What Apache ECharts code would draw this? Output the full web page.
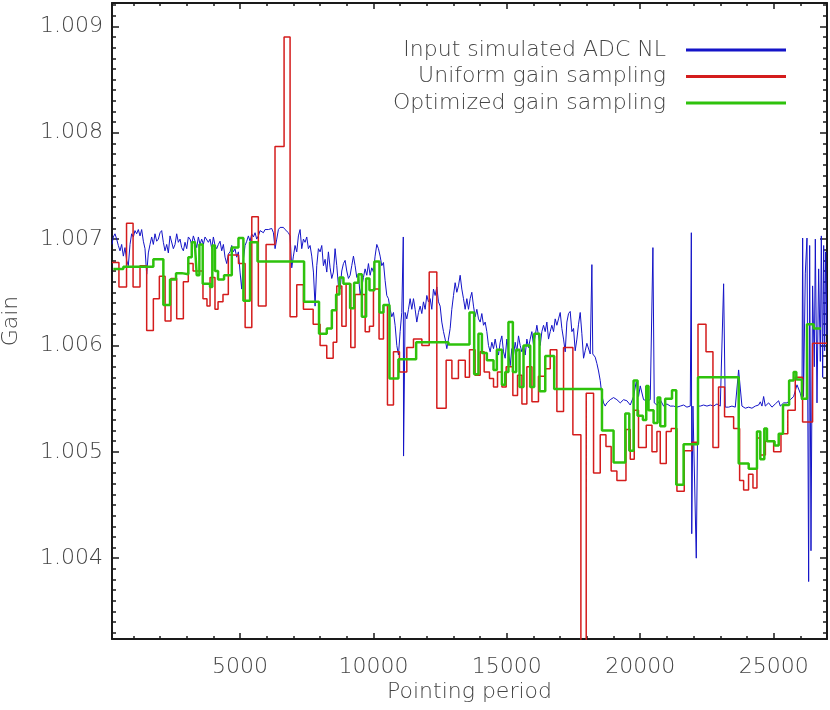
<!DOCTYPE html>
<html><head><meta charset="utf-8">
<script src="https://cdn.jsdelivr.net/npm/echarts@6/dist/echarts.min.js"></script>
<style>html,body{margin:0;padding:0;background:#fff}#c{width:830px;height:710px}</style>
</head><body><div id="c"></div>
<script>
const xMajorTicks = [5000, 10000, 15000, 20000, 25000];
const yMajorTicks = [1.004, 1.005, 1.006, 1.007, 1.008, 1.009];
const xRange = [200, 27000];
const yRange = [1.00324, 1.00922];
const seriesNames = ['Input simulated ADC NL', 'Uniform gain sampling', 'Optimized gain sampling'];
const xTitle = 'Pointing period';
const yTitle = 'Gain';

const blue = [
[200,1.00695],[250,1.00702],[312,1.00705],[375,1.00700],[437,1.00694],[500,1.00689],[562,1.00695],[625,1.00684],[687,1.00692],[750,1.00680],[812,1.00675],[875,1.00695],[937,1.00705],[1000,1.00702],[1062,1.00708],[1125,1.00705],[1187,1.00709],[1250,1.00703],[1312,1.00709],[1375,1.00698],[1437,1.00691],[1500,1.00667],[1562,1.00687],[1625,1.00695],[1687,1.00702],[1750,1.00695],[1812,1.00705],[1875,1.00698],[1937,1.00700],[2000,1.00706],[2062,1.00708],[2125,1.00697],[2187,1.00689],[2250,1.00695],[2312,1.00687],[2375,1.00703],[2437,1.00702],[2500,1.00691],[2562,1.00695],[2625,1.00705],[2687,1.00697],[2750,1.00700],[2812,1.00692],[2875,1.00689],[2937,1.00697],[3000,1.00691],[3062,1.00702],[3125,1.00700],[3187,1.00695],[3250,1.00703],[3312,1.00698],[3375,1.00692],[3437,1.00702],[3500,1.00695],[3562,1.00700],[3625,1.00695],[3687,1.00702],[3750,1.00703],[3812,1.00697],[3875,1.00700],[3937,1.00691],[4000,1.00702],[4062,1.00694],[4125,1.00691],[4187,1.00695],[4250,1.00698],[4312,1.00689],[4375,1.00695],[4437,1.00683],[4500,1.00677],[4562,1.00686],
[4625,1.00688],[4687,1.00694],[4750,1.00688],[4812,1.00691],[4875,1.00683],[4937,1.00688],[5000,1.00669],[5062,1.00653],[5125,1.00681],[5187,1.00694],[5250,1.00698],[5312,1.00703],[5375,1.00698],[5437,1.00705],[5500,1.00702],[5562,1.00706],[5625,1.00700],[5687,1.00703],[5750,1.00708],[5812,1.00709],[5875,1.00706],[5937,1.00709],[6000,1.00708],[6062,1.00709],[6125,1.00708],[6187,1.00710],[6250,1.00706],[6312,1.00691],[6375,1.00700],[6437,1.00709],[6500,1.00711],[6562,1.00710],[6625,1.00711],[6687,1.00709],[6750,1.00709],[6812,1.00706],[6875,1.00703],[6937,1.00673],[7000,1.00684],[7062,1.00694],[7125,1.00688],[7187,1.00703],[7250,1.00709],[7312,1.00691],[7375,1.00700],[7437,1.00697],[7500,1.00702],[7562,1.00691],[7625,1.00694],[7687,1.00684],[7750,1.00669],[7812,1.00637],[7875,1.00675],[7937,1.00691],[8000,1.00688],[8062,1.00694],[8125,1.00675],[8187,1.00681],[8250,1.00669],[8312,1.00688],[8375,1.00673],[8437,1.00663],[8500,1.00669],[8562,1.00691],[8625,1.00675],[8687,1.00656],
[8750,1.00653],[8812,1.00670],[8875,1.00677],[8937,1.00680],[9000,1.00670],[9062,1.00663],[9125,1.00666],[9187,1.00675],[9250,1.00684],[9312,1.00675],[9375,1.00664],[9437,1.00666],[9500,1.00648],[9562,1.00655],[9625,1.00664],[9687,1.00672],[9750,1.00666],[9812,1.00677],[9875,1.00666],[9937,1.00673],[10000,1.00669],[10062,1.00684],[10125,1.00695],[10187,1.00691],[10250,1.00684],[10312,1.00675],[10375,1.00678],[10437,1.00661],[10500,1.00647],[10562,1.00644],[10625,1.00634],[10687,1.00627],[10750,1.00631],[10812,1.00619],[10875,1.00600],[10937,1.00591],[11000,1.00613],[11062,1.00631],[11118,1.00702],[11128,1.00496],[11187,1.00631],[11250,1.00625],[11312,1.00634],[11375,1.00644],[11437,1.00634],[11500,1.00644],[11562,1.00634],[11625,1.00622],[11687,1.00631],[11750,1.00637],[11812,1.00630],[11875,1.00641],[11937,1.00634],[12000,1.00647],[12062,1.00641],[12125,1.00644],[12187,1.00634],[12250,1.00653],[12312,1.00647],[12375,1.00655],[12437,1.00641],[12500,1.00637],[12562,1.00622],[12625,1.00613],[12687,1.00606],[12750,1.00597],[12812,1.00606],[12875,1.00616],[12937,1.00634],[13000,1.00647],[13062,1.00659],[13125,1.00650],[13187,1.00656],[13250,1.00666],[13312,1.00653],[13375,1.00644],[13437,1.00634],[13500,1.00644],[13562,1.00634],[13625,1.00644],[13687,1.00650],[13750,1.00637],[13812,1.00627],[13875,1.00634],[13937,1.00625],[14000,1.00622],[14062,1.00630],[14125,1.00619],[14187,1.00622],[14250,1.00613],[14312,1.00600],[14375,1.00594],[14437,1.00603],[14500,1.00597],[14562,1.00606],[14625,1.00597],[14687,1.00591],[14750,1.00603],[14812,1.00609],[14875,1.00594],[14937,1.00588],[15000,1.00606],[15062,1.00595],[15125,1.00581],[15187,1.00597],[15250,1.00591],[15312,1.00603],[15375,1.00594],[15437,1.00609],[15500,1.00600],[15562,1.00594],[15625,1.00600],[15687,1.00591],[15750,1.00606],[15812,1.00598],[15875,1.00606],[15937,1.00613],[16000,1.00600],[16062,1.00609],[16125,1.00619],[16187,1.00609],[16250,1.00600],[16312,1.00613],[16375,1.00619],[16437,1.00613],[16500,1.00622],[16562,1.00606],[16625,1.00613],[16687,1.00619],[16750,1.00613],[16812,1.00625],[16875,1.00619],[16937,1.00625],[17000,1.00631],[17062,1.00616],[17125,1.00606],[17187,1.00594],[17250,1.00622],[17312,1.00630],[17375,1.00632],[17437,1.00613],
[17500,1.00616],[17562,1.00595],[17625,1.00606],[17687,1.00620],[17750,1.00631],[17812,1.00611],[17875,1.00588],[17937,1.00595],[18000,1.00602],[18062,1.00603],[18125,1.00592],[18187,1.00676],[18220,1.00592],[18312,1.00589],[18375,1.00583],[18437,1.00576],[18500,1.00567],[18562,1.00553],[18625,1.00546],[18687,1.00543],
[18750,1.00546],[18875,1.00549],[19000,1.00551],[19125,1.00549],[19250,1.00546],[19375,1.00549],[19500,1.00548],[19625,1.00544],[19750,1.00552],[19850,1.00566],[19937,1.00552],[20000,1.00562],[20125,1.00549],[20250,1.00548],[20375,1.00549],[20475,1.00692],[20525,1.00546],[20625,1.00544],[20750,1.00549],[20875,1.00543],[21000,1.00545],[21125,1.00543],[21250,1.00543],[21375,1.00542],[21500,1.00543],[21625,1.00544],[21750,1.00542],[21875,1.00543],[21915,1.00706],[21930,1.00423],[21975,1.00543],[22100,1.00400],[22160,1.00543],[22250,1.00543],[22375,1.00544],[22500,1.00543],[22625,1.00544],[22750,1.00543],[22875,1.00545],[23000,1.00543],[23125,1.00658],[23187,1.00542],[23312,1.00542],[23437,1.00543],[23562,1.00542],[23687,1.00577],[23812,1.00543],[23937,1.00541],[24062,1.00542],[24187,1.00541],[24312,1.00543],[24437,1.00544],[24500,1.00547],[24562,1.00543],[24625,1.00552],[24687,1.00543],[24812,1.00546],[24937,1.00542],[25062,1.00545],[25187,1.00548],[25250,1.00543],[25375,1.00546],[25500,1.00546],[25625,1.00549],[25750,1.00552],[25875,1.00563],[25937,1.00563],[26000,1.00555],[26062,1.00549],
[26087,1.00701],[26120,1.00552],[26187,1.00668],[26250,1.00701],[26312,1.00378],[26350,1.00694],[26400,1.00407],[26460,1.00656],[26525,1.00580],[26562,1.00700],[26625,1.00546],[26687,1.00672],[26750,1.00585],[26787,1.00703],[26837,1.00570],[26875,1.00694],[26912,1.00595],[26950,1.00688],[27000,1.00610]
];

const red = [
[200,1.00678],[460,1.00655],[745,1.00715],[990,1.00655],[1250,1.00675],[1500,1.00614],[1750,1.00644],[1975,1.00665],[2190,1.00623],[2410,1.00663],[2625,1.00625],[2875,1.00660],[3060,1.00677],[3240,1.00670],[3610,1.00644],[3760,1.00637],[3875,1.00664],[4060,1.00634],[4175,1.00641],[4360,1.00648],[4560,1.00685],[4940,1.00677],[5190,1.00617],[5440,1.00721],[5685,1.00637],[5975,1.00695],[6310,1.00787],[6650,1.00890],[6875,1.00627],[7125,1.00657],[7375,1.00634],[7740,1.00620],[8000,1.00600],[8250,1.00588],[8490,1.00603],[8625,1.00656],[8815,1.00618],[8975,1.00658],[9150,1.00598],[9310,1.00648],[9690,1.00613],[9850,1.00618],[10000,1.00653],[10210,1.00606],[10375,1.00638],[10525,1.00544],[10750,1.00594],[10975,1.00575],[11250,1.00598],[11500,1.00606],[11815,1.00600],[12090,1.00669],[12375,1.00541],[12725,1.00586],[12940,1.00569],[13185,1.00586],[13440,1.00570],[13600,1.00596],[13810,1.00572],[14000,1.00594],[14150,1.00575],[14350,1.00569],[14500,1.00561],[14650,1.00575],[14815,1.00561],[14975,1.00580],[15225,1.00553],[15400,1.00572],[15565,1.00545],[15750,1.00580],[15940,1.00547],[16185,1.00571],[16440,1.00578],[16625,1.00596],[16875,1.00538],[17125,1.00598],[17475,1.00516],[17775,1.00300],[17975,1.00555],[18250,1.00480],[18500,1.00516],[18715,1.00505],[18910,1.00482],[19125,1.00473],[19465,1.00521],[19625,1.00493],[19775,1.00539],[19935,1.00504],[20225,1.00525],[20440,1.00500],[20625,1.00519],[20750,1.00489],[20975,1.00519],[21160,1.00522],[21375,1.00463],[21650,1.00501],[21940,1.00509],[22165,1.00620],[22465,1.00594],[22725,1.00504],[22935,1.00561],[23160,1.00533],[23500,1.00522],[23725,1.00473],[23875,1.00464],[24060,1.00479],[24225,1.00466],[24375,1.00513],[24500,1.00497],[24690,1.00510],[25000,1.00500],[25275,1.00517],[25530,1.00539],[25810,1.00570],[26085,1.00528],[26460,1.00602],[27000,1.00602]
];

const green = [
[250,1.00672],[625,1.00674],[1750,1.00681],[2125,1.00638],[2375,1.00662],[2600,1.00668],[2815,1.00667],[3060,1.00683],[3190,1.00697],[3310,1.00694],[3375,1.00666],[3475,1.00695],[3600,1.00658],[3875,1.00655],[3960,1.00694],[4060,1.00670],[4175,1.00662],[4400,1.00666],[4690,1.00692],[4940,1.00701],[5125,1.00642],[5375,1.00697],[5655,1.00679],[7400,1.00641],[7960,1.00611],[8250,1.00616],[8440,1.00633],[8600,1.00648],[8725,1.00664],[8875,1.00658],[9125,1.00635],[9275,1.00659],[9435,1.00667],[9565,1.00627],[9725,1.00663],[9850,1.00652],[10035,1.00679],[10225,1.00631],[10375,1.00638],[10600,1.00569],[10935,1.00587],[11600,1.00603],[12810,1.00601],[13600,1.00631],[13775,1.00573],[13935,1.00611],[14065,1.00593],[14250,1.00586],[14500,1.00577],[14625,1.00596],[14815,1.00563],[14940,1.00575],[15060,1.00622],[15225,1.00575],[15350,1.00596],[15475,1.00561],[15625,1.00600],[15875,1.00561],[16025,1.00611],[16225,1.00557],[16440,1.00590],[16775,1.00559],[18565,1.00520],[19000,1.00490],[19440,1.00536],[19590,1.00501],[19750,1.00567],[19900,1.00534],[20100,1.00530],[20225,1.00562],[20310,1.00539],[20500,1.00527],[20650,1.00551],[20750,1.00524],[20935,1.00550],[21190,1.00558],[21350,1.00469],[21625,1.00507],[22165,1.00570],[23690,1.00489],[24065,1.00484],[24375,1.00519],[24500,1.00493],[24650,1.00522],[24750,1.00510],[25035,1.00506],[25190,1.00517],[25350,1.00544],[25580,1.00567],[25750,1.00575],[25850,1.00568],[26060,1.00550],[26250,1.00620],[26500,1.00616],[26775,1.00616]
];

const xMinorTicks = [];
for (let v = 1000; v < 27000; v += 1000) if (v % 5000 !== 0) xMinorTicks.push(v);
const yMinorTicks = [];
for (let i = 33; i <= 92; i++) if (i % 10 !== 0) yMinorTicks.push(Math.round((1 + i * 0.0001) * 1e6) / 1e6);

const FONT = 'DejaVu Sans';
const FW = 200;
const TXT = '#444';
const AXC = '#1a1a1a';

function xAx(pos, vals, len, line, labels) {
  return {
    type: 'value', position: pos, min: xRange[0], max: xRange[1],
    axisLine: { show: line, onZero: false, lineStyle: { color: AXC, width: 2 } },
    axisTick: { show: true, inside: true, length: len, customValues: vals, lineStyle: { color: AXC, width: 1.5 } },
    axisLabel: labels ? { show: true, customValues: xMajorTicks, margin: 17, color: TXT, fontFamily: FONT, fontWeight: FW, fontSize: 22, formatter: v => String(v) } : { show: false },
    splitLine: { show: false },
    name: labels ? xTitle : '', nameLocation: 'middle', nameGap: 42, nameMoveOverlap: false,
    nameTextStyle: { color: TXT, fontFamily: FONT, fontWeight: FW, fontSize: 22 }
  };
}
function yAx(pos, vals, len, line, labels) {
  return {
    type: 'value', position: pos, min: yRange[0], max: yRange[1],
    axisLine: { show: line, onZero: false, lineStyle: { color: AXC, width: 2 } },
    axisTick: { show: true, inside: true, length: len, customValues: vals, lineStyle: { color: AXC, width: 1.5 } },
    axisLabel: labels ? { show: true, customValues: yMajorTicks, margin: 9, color: TXT, fontFamily: FONT, fontWeight: FW, fontSize: 22, formatter: v => v.toFixed(3) } : { show: false },
    splitLine: { show: false },
    name: labels ? yTitle : '', nameLocation: 'middle', nameGap: 90, nameRotate: 90, nameMoveOverlap: false,
    nameTextStyle: { color: TXT, fontFamily: FONT, fontWeight: FW, fontSize: 22 }
  };
}

const chart = echarts.init(document.getElementById('c'), null, { renderer: 'canvas' });
chart.setOption({
  animation: false,
  backgroundColor: '#fff',
  grid: { left: 112, right: 3, top: 3, bottom: 71, containLabel: false, outerBoundsMode: 'none' },
  xAxis: [
    xAx('bottom', xMajorTicks, 6, true, true),
    xAx('bottom', xMinorTicks, 3, false, false),
    xAx('top', xMajorTicks, 6, true, false),
    xAx('top', xMinorTicks, 3, false, false)
  ],
  yAxis: [
    yAx('left', yMajorTicks, 7, true, true),
    yAx('left', yMinorTicks, 4, false, false),
    yAx('right', yMajorTicks, 7, true, false),
    yAx('right', yMinorTicks, 4, false, false)
  ],
  legend: {
    orient: 'vertical', right: 39, top: 34, align: 'right',
    itemWidth: 100, itemHeight: 3, itemGap: 4.5, icon: 'rect',
    selectedMode: false,
    data: seriesNames,
    textStyle: { fontFamily: FONT, fontWeight: FW, fontSize: 22, color: TXT, lineHeight: 22, padding: [0, 15, 0, 0] }
  },
  series: [
    { name: seriesNames[0], type: 'line', data: blue, symbol: 'none', color: '#1414c8',
      lineStyle: { width: 1, color: '#1414c8' }, clip: true, z: 2 },
    { name: seriesNames[1], type: 'line', data: red, step: 'end', symbol: 'none', color: '#d41c1c',
      lineStyle: { width: 1.5, color: '#d41c1c' }, clip: true, z: 3 },
    { name: seriesNames[2], type: 'line', data: green, step: 'end', symbol: 'none', color: '#2ec20c',
      lineStyle: { width: 2.5, color: '#2ec20c' }, clip: true, z: 4 }
  ]
});
</script></body></html>
